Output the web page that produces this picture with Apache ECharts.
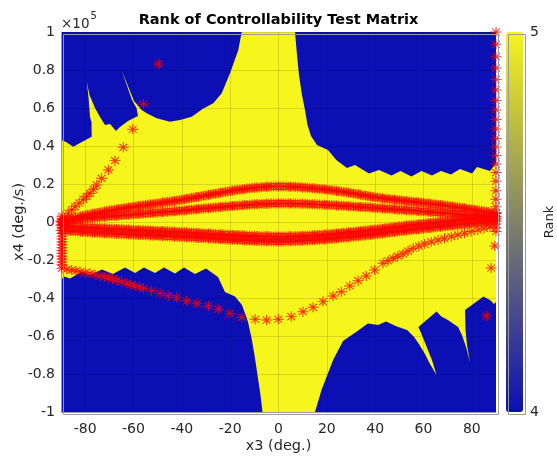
<!DOCTYPE html>
<html>
<head>
<meta charset="utf-8">
<script src="https://cdn.jsdelivr.net/npm/echarts/dist/echarts.min.js"></script>
<style>
  html, body { margin: 0; padding: 0; background: #ffffff; }
  #chart { width: 557px; height: 464px; }
</style>
</head>
<body>
<div id="chart"></div>
<script>
// ---- tick labels ----
const x3Ticks = [-80, -60, -40, -20, 0, 20, 40, 60, 80];
const x4Ticks = [-1, -0.8, -0.6, -0.4, -0.2, 0, 0.2, 0.4, 0.6, 0.8, 1];   // in units of 1e5 deg/s
const rankTicks = [4, 5];

// ---- rank of the controllability test matrix: region outlines [x3 (deg), x4 (1e5 deg/s)] ----
const rankFullRegion = [[-90, -1], [90, -1], [90, 1], [-90, 1]];
const rankDropUpperLeft = [
  [-90, 1], [-15.23, 1], [-16.63, 0.905], [-20.07, 0.783], [-23.5, 0.677], [-26.98, 0.625],
  [-31.12, 0.598], [-35.92, 0.554], [-40.76, 0.537], [-44.9, 0.528], [-50.4, 0.546],
  [-54.54, 0.572], [-56.61, 0.589], [-59.79, 0.637], [-64.97, 0.8], [-60.62, 0.642],
  [-58.76, 0.6], [-58.14, 0.558], [-62.28, 0.532], [-65.59, 0.5], [-67.24, 0.479],
  [-69.72, 0.516], [-71.79, 0.511], [-73.86, 0.553], [-75.93, 0.6], [-78.21, 0.668],
  [-79.37, 0.738], [-78.62, 0.658], [-78.0, 0.553], [-77.38, 0.526], [-77.3, 0.449],
  [-82.14, 0.416], [-84.91, 0.396], [-87.93, 0.421], [-90, 0.432]
];
const rankDropUpperRight = [
  [6.83, 1], [7.66, 0.879], [8.48, 0.774], [9.72, 0.668], [10.97, 0.589], [12.0, 0.511],
  [13.45, 0.453], [15.93, 0.405], [20.48, 0.379], [23.92, 0.326], [28.34, 0.284],
  [31.66, 0.3], [37.45, 0.255], [41.59, 0.274], [46.76, 0.245], [50.48, 0.268],
  [55.03, 0.239], [59.17, 0.268], [63.52, 0.245], [67.24, 0.268], [71.38, 0.25],
  [75.1, 0.279], [80.07, 0.255], [82.14, 0.289], [87.52, 0.268], [89.38, 0.3],
  [90, 0.311], [90, 1]
];
const rankDropLowerLeft = [
  [-90, -0.305], [-88.76, -0.287], [-86.28, -0.297], [-81.31, -0.261], [-78.0, -0.276],
  [-73.03, -0.25], [-68.48, -0.274], [-63.52, -0.239], [-59.38, -0.268], [-55.66, -0.239],
  [-51.1, -0.268], [-47.38, -0.239], [-42.83, -0.271], [-39.1, -0.239], [-34.55, -0.274],
  [-30.0, -0.245], [-25.03, -0.289], [-22.14, -0.368], [-18.0, -0.392], [-15.1, -0.437],
  [-12.62, -0.526], [-11.17, -0.611], [-9.93, -0.7], [-8.69, -0.805], [-7.45, -0.911],
  [-6.62, -1], [-90, -1]
];
const rankDropLowerRight = [
  [15.1, -1], [17.8, -0.884], [22.6, -0.726], [26.7, -0.626], [32.1, -0.579], [37.0, -0.534],
  [41.2, -0.542], [44.5, -0.524], [49.0, -0.55], [53.2, -0.568], [56.1, -0.605],
  [58.1, -0.642], [60.6, -0.695], [62.7, -0.747], [65.4, -0.805], [63.5, -0.726],
  [61.0, -0.647], [59.0, -0.584], [57.9, -0.553], [65.4, -0.471], [67.4, -0.497],
  [70.1, -0.516], [74.3, -0.553], [75.9, -0.595], [77.6, -0.658], [79.2, -0.737],
  [78.0, -0.647], [77.4, -0.568], [77.2, -0.463], [84.8, -0.392], [87.5, -0.411],
  [89.2, -0.432], [90, -0.421], [90, -1]
];
const regionOutlines = [rankFullRegion, rankDropUpperLeft, rankDropUpperRight, rankDropLowerLeft, rankDropLowerRight];
const regionRanks = [5, 4, 4, 4, 4];

// ---- trajectory samples (x3 deg, x4 in 1e5 deg/s) ----
const bandX3 = [
  -90, -88, -86, -84, -82, -80, -78, -76, -74, -72, -70, -68, -66, -64, -62, -60, -58, -56, -54, -52,
  -50, -48, -46, -44, -42, -40, -38, -36, -34, -32, -30, -28, -26, -24, -22, -20, -18, -16, -14, -12,
  -10, -8, -6, -4, -2, 0, 2, 4, 6, 8, 10, 12, 14, 16, 18, 20, 22, 24, 26, 28,
  30, 32, 34, 36, 38, 40, 42, 44, 46, 48, 50, 52, 54, 56, 58, 60, 62, 64, 66, 68,
  70, 72, 74, 76, 78, 80, 82, 84, 86, 88, 90
];
const bandX3Odd = [
  -89, -87, -85, -83, -81, -79, -77, -75, -73, -71, -69, -67, -65, -63, -61, -59, -57, -55, -53, -51,
  -49, -47, -45, -43, -41, -39, -37, -35, -33, -31, -29, -27, -25, -23, -21, -19, -17, -15, -13, -11,
  -9, -7, -5, -3, -1, 1, 3, 5, 7, 9, 11, 13, 15, 17, 19, 21, 23, 25, 27, 29,
  31, 33, 35, 37, 39, 41, 43, 45, 47, 49, 51, 53, 55, 57, 59, 61, 63, 65, 67, 69,
  71, 73, 75, 77, 79, 81, 83, 85, 87, 89
];
const bandUpperX4 = [
  0.000, 0.008, 0.015, 0.022, 0.029, 0.035, 0.040, 0.045, 0.050, 0.055, 0.060, 0.064, 0.068, 0.072, 0.076, 0.080, 0.084, 0.087, 0.091, 0.094,
  0.098, 0.102, 0.105, 0.109, 0.113, 0.117, 0.122, 0.126, 0.131, 0.135, 0.140, 0.145, 0.149, 0.154, 0.158, 0.163, 0.167, 0.170, 0.174, 0.177,
  0.180, 0.182, 0.184, 0.186, 0.187, 0.187, 0.187, 0.186, 0.185, 0.184, 0.182, 0.180, 0.178, 0.175, 0.173, 0.170, 0.167, 0.163, 0.160, 0.156,
  0.152, 0.148, 0.143, 0.139, 0.134, 0.130, 0.127, 0.123, 0.120, 0.117, 0.114, 0.111, 0.108, 0.106, 0.103, 0.100, 0.097, 0.094, 0.091, 0.088,
  0.085, 0.081, 0.077, 0.074, 0.070, 0.066, 0.062, 0.058, 0.054, 0.049, 0.045
];
const bandUpperX4Odd = [
  0.004, 0.012, 0.019, 0.026, 0.032, 0.038, 0.043, 0.048, 0.053, 0.058, 0.062, 0.066, 0.070, 0.074, 0.078, 0.082, 0.086, 0.089, 0.093, 0.096,
  0.100, 0.104, 0.107, 0.111, 0.115, 0.120, 0.124, 0.129, 0.133, 0.138, 0.143, 0.147, 0.152, 0.156, 0.161, 0.165, 0.169, 0.172, 0.176, 0.179,
  0.181, 0.183, 0.185, 0.187, 0.187, 0.187, 0.187, 0.186, 0.185, 0.183, 0.181, 0.179, 0.177, 0.174, 0.172, 0.169, 0.165, 0.162, 0.158, 0.154,
  0.150, 0.146, 0.141, 0.137, 0.132, 0.129, 0.125, 0.122, 0.119, 0.116, 0.113, 0.110, 0.107, 0.105, 0.102, 0.099, 0.096, 0.093, 0.090, 0.087,
  0.083, 0.079, 0.076, 0.072, 0.068, 0.064, 0.060, 0.056, 0.052, 0.047
];
const bandMiddleX4 = [
  0.005, 0.008, 0.010, 0.013, 0.015, 0.018, 0.020, 0.023, 0.025, 0.028, 0.030, 0.032, 0.034, 0.036, 0.038, 0.040, 0.042, 0.044, 0.046, 0.048,
  0.050, 0.052, 0.054, 0.056, 0.058, 0.060, 0.062, 0.065, 0.067, 0.070, 0.072, 0.074, 0.076, 0.079, 0.081, 0.083, 0.085, 0.087, 0.089, 0.091,
  0.093, 0.094, 0.095, 0.096, 0.097, 0.098, 0.098, 0.097, 0.097, 0.096, 0.096, 0.095, 0.093, 0.092, 0.091, 0.090, 0.088, 0.087, 0.085, 0.084,
  0.082, 0.080, 0.079, 0.077, 0.076, 0.074, 0.072, 0.070, 0.069, 0.067, 0.065, 0.063, 0.061, 0.060, 0.058, 0.056, 0.054, 0.052, 0.050, 0.048,
  0.046, 0.044, 0.041, 0.039, 0.036, 0.034, 0.031, 0.028, 0.026, 0.023, 0.020
];
const bandMiddleX4Odd = [
  0.007, 0.009, 0.012, 0.014, 0.017, 0.019, 0.022, 0.024, 0.027, 0.029, 0.031, 0.033, 0.035, 0.037, 0.039, 0.041, 0.043, 0.045, 0.047, 0.049,
  0.051, 0.053, 0.055, 0.057, 0.059, 0.061, 0.064, 0.066, 0.069, 0.071, 0.073, 0.075, 0.078, 0.080, 0.082, 0.084, 0.086, 0.088, 0.090, 0.092,
  0.094, 0.095, 0.096, 0.097, 0.098, 0.098, 0.098, 0.097, 0.097, 0.096, 0.096, 0.094, 0.093, 0.092, 0.091, 0.089, 0.088, 0.086, 0.085, 0.083,
  0.081, 0.080, 0.078, 0.077, 0.075, 0.073, 0.071, 0.070, 0.068, 0.066, 0.064, 0.062, 0.061, 0.059, 0.057, 0.055, 0.053, 0.051, 0.049, 0.047,
  0.045, 0.043, 0.040, 0.038, 0.035, 0.033, 0.030, 0.027, 0.025, 0.022
];
const bandLowerAX4 = [
  -0.017, -0.019, -0.021, -0.023, -0.025, -0.027, -0.029, -0.030, -0.032, -0.033, -0.035, -0.036, -0.037, -0.038, -0.040, -0.041, -0.042, -0.043, -0.044, -0.046,
  -0.047, -0.048, -0.049, -0.050, -0.052, -0.053, -0.054, -0.056, -0.057, -0.059, -0.060, -0.061, -0.063, -0.064, -0.066, -0.067, -0.068, -0.069, -0.071, -0.072,
  -0.073, -0.074, -0.075, -0.075, -0.076, -0.076, -0.076, -0.075, -0.075, -0.074, -0.073, -0.071, -0.070, -0.068, -0.067, -0.065, -0.063, -0.060, -0.058, -0.055,
  -0.053, -0.050, -0.047, -0.045, -0.042, -0.039, -0.036, -0.033, -0.029, -0.026, -0.023, -0.020, -0.017, -0.015, -0.012, -0.009, -0.006, -0.003, 0.000, 0.002,
  0.005, 0.008, 0.010, 0.013, 0.015, 0.018, 0.020, 0.022, 0.024, 0.026, 0.028
];
const bandLowerAX4Odd = [
  -0.018, -0.020, -0.022, -0.024, -0.026, -0.028, -0.030, -0.031, -0.033, -0.034, -0.036, -0.037, -0.038, -0.039, -0.041, -0.042, -0.043, -0.044, -0.045, -0.047,
  -0.048, -0.049, -0.050, -0.051, -0.053, -0.054, -0.055, -0.057, -0.058, -0.060, -0.061, -0.062, -0.064, -0.065, -0.067, -0.068, -0.069, -0.070, -0.072, -0.073,
  -0.074, -0.075, -0.075, -0.076, -0.076, -0.076, -0.076, -0.075, -0.075, -0.074, -0.072, -0.071, -0.069, -0.068, -0.066, -0.064, -0.062, -0.059, -0.057, -0.054,
  -0.052, -0.049, -0.046, -0.044, -0.041, -0.038, -0.035, -0.031, -0.028, -0.025, -0.022, -0.019, -0.016, -0.014, -0.011, -0.008, -0.005, -0.002, 0.001, 0.004,
  0.007, 0.009, 0.012, 0.014, 0.017, 0.019, 0.021, 0.023, 0.025, 0.027
];
const bandLowerBX4 = [
  -0.043, -0.045, -0.047, -0.049, -0.051, -0.053, -0.055, -0.056, -0.058, -0.059, -0.061, -0.062, -0.063, -0.064, -0.066, -0.067, -0.068, -0.069, -0.070, -0.072,
  -0.073, -0.074, -0.075, -0.076, -0.078, -0.079, -0.080, -0.082, -0.083, -0.085, -0.086, -0.087, -0.089, -0.090, -0.092, -0.093, -0.094, -0.095, -0.097, -0.098,
  -0.099, -0.100, -0.101, -0.101, -0.102, -0.102, -0.102, -0.101, -0.101, -0.100, -0.099, -0.097, -0.096, -0.094, -0.093, -0.091, -0.089, -0.086, -0.084, -0.081,
  -0.079, -0.076, -0.073, -0.071, -0.068, -0.065, -0.062, -0.059, -0.055, -0.052, -0.049, -0.046, -0.043, -0.041, -0.038, -0.035, -0.032, -0.029, -0.026, -0.024,
  -0.021, -0.018, -0.016, -0.013, -0.011, -0.008, -0.006, -0.004, -0.002, 0.000, 0.002
];
const bandLowerBX4Odd = [
  -0.044, -0.046, -0.048, -0.050, -0.052, -0.054, -0.056, -0.057, -0.059, -0.060, -0.062, -0.063, -0.064, -0.065, -0.067, -0.068, -0.069, -0.070, -0.071, -0.073,
  -0.074, -0.075, -0.076, -0.077, -0.079, -0.080, -0.081, -0.083, -0.084, -0.086, -0.087, -0.088, -0.090, -0.091, -0.093, -0.094, -0.095, -0.096, -0.098, -0.099,
  -0.100, -0.101, -0.101, -0.102, -0.102, -0.102, -0.102, -0.101, -0.101, -0.100, -0.098, -0.097, -0.095, -0.094, -0.092, -0.090, -0.088, -0.085, -0.083, -0.080,
  -0.078, -0.075, -0.072, -0.070, -0.067, -0.064, -0.061, -0.057, -0.054, -0.051, -0.048, -0.045, -0.042, -0.040, -0.037, -0.034, -0.031, -0.028, -0.025, -0.023,
  -0.020, -0.017, -0.015, -0.012, -0.010, -0.007, -0.005, -0.003, -0.001, 0.001
];
const arcPoints = [
  [-89.7, -0.244], [-87.6, -0.249], [-85.6, -0.253], [-83.8, -0.258], [-82.1, -0.262], [-80.0, -0.266],
  [-78.0, -0.270], [-75.9, -0.277], [-73.9, -0.284], [-72.1, -0.288], [-70.4, -0.293], [-68.7, -0.299],
  [-67.0, -0.305], [-64.9, -0.314], [-62.8, -0.323], [-61.1, -0.330], [-59.4, -0.337], [-57.6, -0.343],
  [-55.9, -0.349], [-52.5, -0.362], [-49.0, -0.375], [-45.6, -0.388], [-42.1, -0.398], [-38.0, -0.416],
  [-33.8, -0.428], [-29.0, -0.442], [-24.9, -0.459], [-20.1, -0.481], [-15.2, -0.502], [-9.7, -0.512],
  [-4.9, -0.516], [-0.1, -0.512], [5.3, -0.498], [10.1, -0.472], [14.3, -0.449], [18.4, -0.419],
  [22.6, -0.389], [26.0, -0.367], [29.5, -0.337], [32.9, -0.309], [36.3, -0.284], [39.8, -0.253],
  [43.2, -0.217], [45.3, -0.204], [47.4, -0.191], [49.4, -0.180], [51.5, -0.168], [53.6, -0.153],
  [55.7, -0.138], [58.1, -0.127], [60.5, -0.116], [63.2, -0.105], [66.0, -0.095], [68.7, -0.086],
  [71.5, -0.077], [74.2, -0.068], [77.0, -0.059], [79.7, -0.050], [82.5, -0.042], [85.0, -0.034],
  [87.5, -0.026]
];
const risingPoints = [
  [-88.5, 0.020], [-87.0, 0.046], [-85.6, 0.063], [-84.2, 0.081], [-82.5, 0.100], [-80.8, 0.119],
  [-79.4, 0.135], [-78.0, 0.151], [-76.6, 0.172], [-75.2, 0.195], [-73.2, 0.230], [-70.4, 0.274],
  [-67.7, 0.323], [-64.2, 0.393], [-60.3, 0.488], [-55.9, 0.621], [-49.7, 0.832]
];
const leftEdgeX4 = [0.03, 0.015, 0.0, -0.015, -0.03, -0.045, -0.06, -0.075, -0.09, -0.105, -0.12, -0.135,
  -0.15, -0.165, -0.18, -0.195, -0.21, -0.225];
const rightEdgeX4 = [1.0, 0.935, 0.87, 0.81, 0.75, 0.695, 0.64, 0.59, 0.54, 0.49, 0.44, 0.395, 0.35,
  0.305, 0.26, 0.215, 0.165, 0.12, 0.08, 0.05, 0.03, 0.01, -0.01, -0.03, -0.05];
const rightStrayPoints = [[89.5, -0.126], [88.0, -0.242], [86.1, -0.495]];

// ---- styling ----
const FONT = 'DejaVu Sans';
const RANK_LOW = '#0b0fb4';
const RANK_HIGH = '#f6f51c';
const AXIS_GREY = '#9a9a9a';
const LABEL = '#262626';
const STAR = 'path://M5 0V10M0 5H10M1.5 1.5L8.5 8.5M1.5 8.5L8.5 1.5';

function zipBand(xs, ys) { return xs.map((x, i) => [x, ys[i]]); }
function band(ysEven, ysOdd) { return zipBand(bandX3, ysEven).concat(zipBand(bandX3Odd, ysOdd)); }
function column(x, ys) { return ys.map(y => [x, y]); }

function starSeries(name, data) {
  return {
    name: name, type: 'scatter', xAxisIndex: 0, yAxisIndex: 0, data: data,
    symbol: STAR, symbolSize: [11, 10], clip: false, silent: true, z: 5,
    itemStyle: { color: 'rgba(0,0,0,0)', borderColor: '#ff0000', borderWidth: 1 },
    emphasis: { disabled: true }
  };
}

const chart = echarts.init(document.getElementById('chart'), null, { renderer: 'canvas' });

chart.setOption({
  animation: false,
  backgroundColor: '#ffffff',
  title: {
    text: 'Rank of Controllability Test Matrix',
    left: 'center', top: 13, padding: 0,
    textStyle: { fontFamily: FONT, fontSize: 14.5, fontWeight: 'bold', color: '#000000' }
  },
  grid: [
    { left: 61, top: 32, width: 435, height: 380, containLabel: false, outerBoundsMode: 'none' },
    { left: 506, top: 32, width: 17, height: 380, containLabel: false, outerBoundsMode: 'none' }
  ],
  xAxis: [
    {
      type: 'value', gridIndex: 0, min: -90, max: 90, z: 3,
      name: 'x3 (deg.)', nameLocation: 'middle', nameGap: 27, nameMoveOverlap: false,
      nameTextStyle: { fontFamily: FONT, fontSize: 14.5, color: LABEL },
      axisLine: { show: true, onZero: false, lineStyle: { color: AXIS_GREY, width: 1 } },
      axisTick: { show: false, customValues: x3Ticks },
      axisLabel: { customValues: x3Ticks, margin: 10, fontFamily: FONT, fontSize: 14, color: LABEL },
      splitLine: { show: true, lineStyle: { color: 'rgba(0,0,0,0.13)', width: 1 } }
    },
    { type: 'value', gridIndex: 1, min: 0, max: 1, show: false }
  ],
  yAxis: [
    {
      type: 'value', gridIndex: 0, min: -1, max: 1, interval: 0.2, z: 3,
      name: 'x4 (deg./s)', nameLocation: 'middle', nameGap: 34, nameRotate: 90, nameMoveOverlap: false,
      nameTextStyle: { fontFamily: FONT, fontSize: 14.5, color: LABEL },
      axisLine: { show: true, onZero: false, lineStyle: { color: AXIS_GREY, width: 1 } },
      axisTick: { show: false, customValues: x4Ticks },
      axisLabel: { customValues: x4Ticks, margin: 6, fontFamily: FONT, fontSize: 14, color: LABEL },
      splitLine: { show: true, lineStyle: { color: 'rgba(0,0,0,0.13)', width: 1 } }
    },
    {
      type: 'value', gridIndex: 1, position: 'right', min: 4, max: 5, interval: 1,
      name: 'Rank', nameLocation: 'middle', nameGap: 20, nameRotate: 90, nameMoveOverlap: false,
      nameTextStyle: { fontFamily: FONT, fontSize: 13, color: LABEL },
      axisLine: { show: false }, axisTick: { show: false }, splitLine: { show: false },
      axisLabel: { customValues: rankTicks, margin: 7, fontFamily: FONT, fontSize: 14, color: LABEL }
    }
  ],
  visualMap: {
    type: 'continuous', min: 4, max: 5, seriesIndex: 0, dimension: 1,
    inRange: { color: [RANK_LOW, RANK_HIGH] },
    orient: 'vertical', left: 506, top: 32, itemWidth: 17, itemHeight: 380,
    padding: 0, calculable: false, realtime: false, hoverLink: false, text: null,
    textStyle: { color: 'transparent' }
  },
  graphic: [
    {
      type: 'text', left: 61, top: 11, z: 10, silent: true,
      style: {
        text: '{m|×10}{e|5}',
        rich: {
          m: { fontFamily: FONT, fontSize: 13.5, fill: LABEL, verticalAlign: 'bottom', lineHeight: 20 },
          e: { fontFamily: FONT, fontSize: 10, fill: LABEL, verticalAlign: 'top', lineHeight: 20, padding: [0, 0, 8, 1] }
        }
      }
    },
    {
      type: 'rect', left: 61, top: 32, z: 10, silent: true,
      shape: { width: 435, height: 380 },
      style: { fill: 'none', stroke: AXIS_GREY, lineWidth: 1 }
    },
    {
      type: 'rect', left: 506, top: 32, z: 10, silent: true,
      shape: { width: 17, height: 380 },
      style: { fill: 'none', stroke: AXIS_GREY, lineWidth: 1 }
    }
  ],
  series: [
    {
      type: 'custom', name: 'Rank', coordinateSystem: 'cartesian2d', xAxisIndex: 0, yAxisIndex: 0,
      dimensions: ['region', 'rank'],
      data: regionRanks.map((r, i) => [i, r]),
      z: 1, silent: true,
      renderItem: function (params, api) {
        const pts = regionOutlines[params.dataIndex].map(p => api.coord(p));
        return { type: 'polygon', shape: { points: pts }, style: { fill: api.visual('color') } };
      }
    },
    starSeries('upper', band(bandUpperX4, bandUpperX4Odd)),
    starSeries('middle', band(bandMiddleX4, bandMiddleX4Odd)),
    starSeries('lowerA', band(bandLowerAX4, bandLowerAX4Odd)),
    starSeries('lowerB', band(bandLowerBX4, bandLowerBX4Odd)),
    starSeries('arc', arcPoints),
    starSeries('rising', risingPoints),
    starSeries('leftEdge', column(-89.6, leftEdgeX4)),
    starSeries('rightEdge', column(90, rightEdgeX4)),
    starSeries('rightStray', rightStrayPoints)
  ]
});
</script>
</body>
</html>
